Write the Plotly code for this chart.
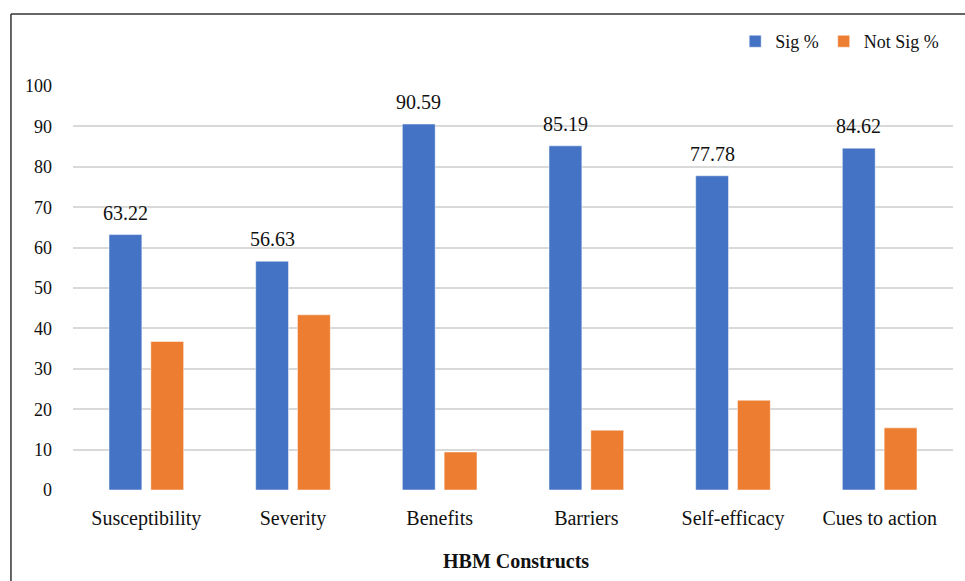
import plotly.graph_objects as go

# HBM constructs and the share of significant / non-significant items
constructs = ["Susceptibility", "Severity", "Benefits", "Barriers", "Self-efficacy", "Cues to action"]
sig_pct = [63.22, 56.63, 90.59, 85.19, 77.78, 84.62]
not_sig_pct = [36.78, 43.37, 9.41, 14.81, 22.22, 15.38]
y_ticks = [0, 10, 20, 30, 40, 50, 60, 70, 80, 90, 100]

FONT = "Liberation Serif, serif"
BLUE = "#4472C4"
ORANGE = "#ED7D31"
GRID = "#D9D9D9"

fig = go.Figure()
fig.add_trace(go.Bar(
    x=constructs, y=sig_pct, name="Sig %",
    marker=dict(color=BLUE, line=dict(color="rgba(255,255,255,0.5)", width=1)),
))
fig.add_trace(go.Bar(
    x=constructs, y=not_sig_pct, name="Not Sig %",
    marker=dict(color=ORANGE, line=dict(color="rgba(255,255,255,0.5)", width=1)),
))

# value labels above the Sig % bars
for c, v in zip(constructs, sig_pct):
    fig.add_annotation(
        x=c, y=v, xref="x", yref="y", text=f"{v:.2f}", showarrow=False,
        xanchor="center", yanchor="bottom", xshift=-21, yshift=9,
        font=dict(family=FONT, size=20, color="#111"),
    )

# axis title
fig.add_annotation(
    x=0.503, y=-0.176, xref="paper", yref="paper", text="<b>HBM Constructs</b>",
    showarrow=False, xanchor="center", yanchor="middle",
    font=dict(family=FONT, size=20, color="#111"),
)

# frame around the figure (left and top edges visible)
frame = dict(color="#333", width=1.5)
fig.add_shape(type="line", xref="paper", yref="paper", x0=-0.0705, x1=-0.0705, y0=1.178, y1=-0.3, line=frame)
fig.add_shape(type="line", xref="paper", yref="paper", x0=-0.0705, x1=1.05, y0=1.178, y1=1.178, line=frame)

fig.update_layout(
    width=965, height=581,
    margin=dict(l=73, r=12, t=86, b=91),
    paper_bgcolor="white", plot_bgcolor="white",
    barmode="group", bargap=0.43, bargroupgap=0.214,
    font=dict(family=FONT, size=18, color="#111"),
    showlegend=True,
    legend=dict(
        orientation="h", x=0.99, xanchor="right", y=1.11, yanchor="middle",
        font=dict(family=FONT, size=18, color="#111"),
        itemwidth=30, traceorder="normal",
    ),
    xaxis=dict(showgrid=False, showline=False, ticks="", ticklabelstandoff=14,
               tickfont=dict(family=FONT, size=20, color="#111")),
    yaxis=dict(range=[0, 100], tickvals=y_ticks, showgrid=True, gridcolor=GRID,
               gridwidth=1.5, zeroline=False, showline=False, ticks="",
               ticklabelstandoff=20, tickfont=dict(family=FONT, size=18, color="#111")),
)

fig.write_html("out.html")
